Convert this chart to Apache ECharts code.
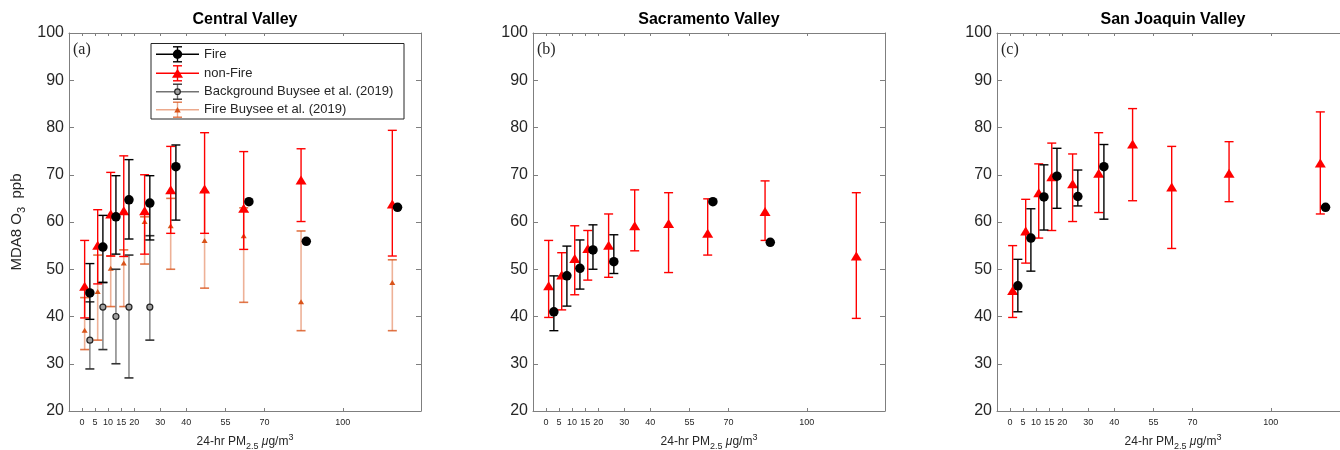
<!DOCTYPE html>
<html>
<head>
<meta charset="utf-8">
<script src="https://cdn.jsdelivr.net/npm/echarts@6/dist/echarts.min.js"></script>
<style>
html, body { margin: 0; padding: 0; background: #fff; }
#chart { width: 1340px; height: 450px; }
</style>
</head>
<body>
<div id="chart"></div>
<script>
// tick labels on the PM2.5 axis
var xTicks = [0, 5, 10, 15, 20, 30, 40, 55, 70, 100];
// bin positions
var nonFireX = [1, 6, 11, 16, 24, 34, 47, 62, 84, 119];
var fireX = [3, 8, 13, 18, 26, 36, 64, 86, 121];

// (a) Central Valley
var cvFire   = [45.0, 54.7, 61.1, 64.7, 64.0, 71.7, 64.3, 55.9, 63.1];
var cvFireLo = [39.4, 47.2, 53.2, 56.4, 56.2, 60.4, null, null, null];
var cvFireHi = [51.2, 61.4, 69.8, 73.2, 69.8, 76.3, null, null, null];
var cvNon    = [46.4, 55.1, 61.7, 62.4, 62.4, 66.8, 67.0, 62.9, 68.9, 63.8];
var cvNonLo  = [39.7, 46.9, 52.8, 52.7, 53.2, 57.6, 57.6, 54.2, 60.1, 52.8];
var cvNonHi  = [56.1, 62.6, 70.5, 74.0, 70.0, 76.0, 78.9, 74.9, 75.5, 79.4];
var bgBuysee   = [35.0, 42.0, 40.0, 42.0, 42.0];
var bgBuyseeLo = [28.9, 33.0, 30.0, 27.0, 35.0];
var bgBuyseeHi = [43.1, 47.2, 50.0, 53.0, 57.1];
var fireBuysee   = [37.1, 45.3, 50.2, 51.3, 60.1, 59.2, 56.1, 57.1, 43.1, 47.2];
var fireBuyseeLo = [33.0, 35.0, 42.1, 42.1, 51.1, 50.0, 46.0, 43.0, 37.0, 37.0];
var fireBuyseeHi = [44.0, 53.0, 52.8, 54.1, 61.1, 65.0, 66.4, 63.0, 58.1, 52.0];

// (b) Sacramento Valley
var svFire   = [41.0, 48.6, 50.2, 54.1, 51.6, null, 64.3, 55.7, null];
var svFireLo = [37.0, 42.2, 45.8, 50.0, 49.1, null, null, null, null];
var svFireHi = [48.6, 54.9, 56.2, 59.4, 57.3, null, null, null, null];
var svNon    = [46.5, 48.8, 52.3, 54.4, 55.1, 59.2, 59.7, 57.6, 62.2, 52.8];
var svNonLo  = [39.8, 41.4, 44.6, 47.7, 48.3, 53.9, 49.3, 53.0, 56.1, 39.6];
var svNonHi  = [56.1, 53.5, 59.2, 58.2, 61.7, 66.8, 66.2, 64.9, 68.7, 66.2];

// (c) San Joaquin Valley
var sjFire   = [46.5, 56.6, 65.3, 69.7, 65.4, 71.7, null, null, 63.1];
var sjFireLo = [41.0, 49.6, 58.3, 62.9, 63.4, 60.6, null, null, null];
var sjFireHi = [52.1, 62.8, 72.1, 75.6, 71.0, 76.4, null, null, null];
var sjNon    = [45.5, 58.1, 66.2, 69.6, 68.1, 70.3, 76.5, 67.4, 70.3, 72.5];
var sjNonLo  = [39.8, 51.3, 56.6, 58.2, 60.1, 62.0, 64.5, 54.4, 64.3, 61.7];
var sjNonHi  = [55.0, 64.8, 72.3, 76.7, 74.4, 78.9, 84.0, 76.0, 77.0, 83.3];

var FONT = '"Liberation Sans", Arial, sans-serif';
var AX = '#7f7f7f';
var TXT = '#262626';
var gridLeft = [69, 533, 997];
var gridW = 352;

var C_FIRE = '#000', C_NON = '#ff0000';
var C_BG_BAR = 'rgba(0,0,0,0.45)', C_BG_CAP = '#333';
var C_FB = '#d95319', C_FB_BAR = 'rgba(217,83,25,0.45)', C_FB_CAP = 'rgba(217,83,25,0.8)';

function pts(xs, ys) {
    var out = [];
    xs.forEach(function (x, i) { if (ys[i] != null) out.push([x, ys[i]]); });
    return out;
}
function bars(xs, lo, hi) {
    var out = [];
    xs.forEach(function (x, i) { if (lo[i] != null) out.push([x, lo[i], hi[i]]); });
    return out;
}

function errSeries(name, g, data, barColor, capColor, lw, z) {
    return {
        name: name, type: 'custom', xAxisIndex: g * 2, yAxisIndex: g * 2,
        data: data, z: z, silent: true,
        encode: { x: 0, y: [1, 2] },
        renderItem: function (params, api) {
            var x = api.value(0);
            var lo = api.coord([x, api.value(1)]);
            var hi = api.coord([x, api.value(2)]);
            var w = 4.5;
            return {
                type: 'group',
                children: [
                    { type: 'line', shape: { x1: lo[0], y1: lo[1], x2: hi[0], y2: hi[1] }, style: { stroke: barColor, lineWidth: lw } },
                    { type: 'line', shape: { x1: lo[0] - w, y1: lo[1], x2: lo[0] + w, y2: lo[1] }, style: { stroke: capColor, lineWidth: lw } },
                    { type: 'line', shape: { x1: hi[0] - w, y1: hi[1], x2: hi[0] + w, y2: hi[1] }, style: { stroke: capColor, lineWidth: lw } }
                ]
            };
        }
    };
}
function dotSeries(name, g, data, symbol, size, style, z) {
    return {
        name: name, type: 'scatter', xAxisIndex: g * 2, yAxisIndex: g * 2,
        data: data, symbol: symbol, symbolSize: size, itemStyle: style, z: z, silent: true
    };
}

var xName = '{a|24-hr PM}{s|2.5}{a| }{i|\u03bc}{a|g/m}{p|3}';
var xRich = {
    a: { fontSize: 12, lineHeight: 18, color: TXT, fontFamily: FONT },
    i: { fontSize: 12, lineHeight: 18, color: TXT, fontFamily: FONT, fontStyle: 'italic' },
    s: { fontSize: 9, lineHeight: 10, color: TXT, fontFamily: FONT, verticalAlign: 'bottom' },
    p: { fontSize: 9, lineHeight: 10, color: TXT, fontFamily: FONT, verticalAlign: 'top' }
};

var grids = [], xAxes = [], yAxes = [];
for (var g = 0; g < 3; g++) {
    grids.push({ left: gridLeft[g], top: 33, width: gridW, height: 378, outerBoundsMode: 'none', containLabel: false });
    xAxes.push({
        gridIndex: g, type: 'value', min: -5, max: 130, position: 'bottom',
        axisLine: { onZero: false, lineStyle: { color: AX, width: 1 } },
        axisTick: { inside: true, length: 3, customValues: xTicks, lineStyle: { color: AX } },
        axisLabel: { customValues: xTicks, fontSize: 9, color: TXT, margin: 7, fontFamily: FONT },
        splitLine: { show: false },
        name: xName, nameLocation: 'middle', nameGap: 22,
        nameTextStyle: { rich: xRich }
    });
    xAxes.push({
        gridIndex: g, type: 'value', min: -5, max: 130, position: 'top',
        axisLine: { onZero: false, lineStyle: { color: AX, width: 1 } },
        axisTick: { inside: true, length: 3, customValues: xTicks, lineStyle: { color: AX } },
        axisLabel: { show: false }, splitLine: { show: false }
    });
    var yl = {
        gridIndex: g, type: 'value', min: 20, max: 100, interval: 10, position: 'left',
        axisLine: { show: true, onZero: false, lineStyle: { color: AX, width: 1 } },
        axisTick: { show: true, inside: true, length: 5, lineStyle: { color: AX } },
        axisLabel: { fontSize: 16, color: TXT, margin: 5, fontFamily: FONT },
        splitLine: { show: false }
    };
    if (g === 0) {
        yl.name = '{a|MDA8 O}{s|3}{a|  ppb}';
        yl.nameLocation = 'middle';
        yl.nameGap = 42;
        yl.nameTextStyle = { rich: {
            a: { fontSize: 15, lineHeight: 20, color: TXT, fontFamily: FONT },
            s: { fontSize: 11, lineHeight: 11, color: TXT, fontFamily: FONT, verticalAlign: 'bottom' }
        } };
    }
    yAxes.push(yl);
    yAxes.push({
        gridIndex: g, type: 'value', min: 20, max: 100, interval: 10, position: 'right',
        axisLine: { show: true, onZero: false, lineStyle: { color: AX, width: 1 } },
        axisTick: { show: true, inside: true, length: 5, lineStyle: { color: AX } },
        axisLabel: { show: false }, splitLine: { show: false }
    });
}

var N_FIRE = 'Fire', N_NON = 'non-Fire', N_BG = 'Background Buysee et al. (2019)', N_FB = 'Fire Buysee et al. (2019)';
var fireStyle = { color: C_FIRE, opacity: 1 };
var nonStyle = { color: C_NON, opacity: 1 };
var bgStyle = { color: '#a0a0a0', borderColor: '#222', borderWidth: 1.2, opacity: 1 };
var fbStyle = { color: C_FB, opacity: 1 };

var series = [
    // (a)
    errSeries(N_FB, 0, bars(nonFireX, fireBuyseeLo, fireBuyseeHi), C_FB_BAR, C_FB_CAP, 1.6, 1),
    dotSeries(N_FB, 0, pts(nonFireX, fireBuysee), 'triangle', [6, 5], fbStyle, 2),
    errSeries(N_BG, 0, bars(fireX, bgBuyseeLo, bgBuyseeHi), C_BG_BAR, C_BG_CAP, 1.6, 3),
    dotSeries(N_BG, 0, pts(fireX, bgBuysee), 'circle', 6, bgStyle, 4),
    errSeries(N_NON, 0, bars(nonFireX, cvNonLo, cvNonHi), C_NON, C_NON, 1.4, 5),
    dotSeries(N_NON, 0, pts(nonFireX, cvNon), 'triangle', [11, 9], nonStyle, 6),
    errSeries(N_FIRE, 0, bars(fireX, cvFireLo, cvFireHi), C_FIRE, C_FIRE, 1.4, 7),
    dotSeries(N_FIRE, 0, pts(fireX, cvFire), 'circle', 9.5, fireStyle, 8),
    // (b)
    errSeries(N_NON, 1, bars(nonFireX, svNonLo, svNonHi), C_NON, C_NON, 1.4, 5),
    dotSeries(N_NON, 1, pts(nonFireX, svNon), 'triangle', [11, 9], nonStyle, 6),
    errSeries(N_FIRE, 1, bars(fireX, svFireLo, svFireHi), C_FIRE, C_FIRE, 1.4, 7),
    dotSeries(N_FIRE, 1, pts(fireX, svFire), 'circle', 9.5, fireStyle, 8),
    // (c)
    errSeries(N_NON, 2, bars(nonFireX, sjNonLo, sjNonHi), C_NON, C_NON, 1.4, 5),
    dotSeries(N_NON, 2, pts(nonFireX, sjNon), 'triangle', [11, 9], nonStyle, 6),
    errSeries(N_FIRE, 2, bars(fireX, sjFireLo, sjFireHi), C_FIRE, C_FIRE, 1.4, 7),
    dotSeries(N_FIRE, 2, pts(fireX, sjFire), 'circle', 9.5, fireStyle, 8)
];

// legend of panel (a), drawn as a boxed key
var legendItems = [
    { name: N_FIRE, bar: C_FIRE, cap: C_FIRE, marker: 'circle', r: 4.7, fill: C_FIRE, stroke: null },
    { name: N_NON, bar: C_NON, cap: C_NON, marker: 'tri', w: 11, h: 9, fill: C_NON },
    { name: N_BG, bar: 'rgba(0,0,0,0.55)', cap: C_BG_CAP, marker: 'circle', r: 2.8, fill: '#a0a0a0', stroke: '#222' },
    { name: N_FB, bar: 'rgba(217,83,25,0.5)', cap: C_FB_CAP, marker: 'tri', w: 6.5, h: 5.5, fill: C_FB }
];
var legendRows = [54.3, 73.3, 91.7, 109.7];
var graphic = [{
    type: 'rect', z: 100, shape: { x: 151, y: 43.5, width: 253, height: 75.5 },
    style: { fill: '#fff', stroke: TXT, lineWidth: 1 }
}];
legendItems.forEach(function (it, i) {
    var y = legendRows[i], cx = 177.5;
    graphic.push({ type: 'line', z: 101, shape: { x1: 156, y1: y, x2: 199, y2: y }, style: { stroke: it.bar, lineWidth: 1.4 } });
    graphic.push({ type: 'line', z: 101, shape: { x1: cx, y1: y - 7.5, x2: cx, y2: y + 7.5 }, style: { stroke: it.bar, lineWidth: 1.4 } });
    graphic.push({ type: 'line', z: 101, shape: { x1: cx - 4.5, y1: y - 7.5, x2: cx + 4.5, y2: y - 7.5 }, style: { stroke: it.cap, lineWidth: 1.4 } });
    graphic.push({ type: 'line', z: 101, shape: { x1: cx - 4.5, y1: y + 7.5, x2: cx + 4.5, y2: y + 7.5 }, style: { stroke: it.cap, lineWidth: 1.4 } });
    if (it.marker === 'circle') {
        graphic.push({ type: 'circle', z: 102, shape: { cx: cx, cy: y, r: it.r },
            style: { fill: it.fill, stroke: it.stroke, lineWidth: it.stroke ? 1.2 : 0 } });
    } else {
        graphic.push({ type: 'polygon', z: 102,
            shape: { points: [[cx, y - it.h / 2], [cx + it.w / 2, y + it.h / 2], [cx - it.w / 2, y + it.h / 2]] },
            style: { fill: it.fill } });
    }
    graphic.push({ type: 'text', z: 102, x: 204, y: y,
        style: { text: it.name, fill: TXT, font: '13px ' + FONT, textVerticalAlign: 'middle', verticalAlign: 'middle' } });
});

var titles = [
    { text: 'Central Valley', left: 245, top: 12, textAlign: 'center', padding: 0,
      textStyle: { fontSize: 16, fontWeight: 'bold', color: '#000', fontFamily: FONT } },
    { text: 'Sacramento Valley', left: 709, top: 12, textAlign: 'center', padding: 0,
      textStyle: { fontSize: 16, fontWeight: 'bold', color: '#000', fontFamily: FONT } },
    { text: 'San Joaquin Valley', left: 1173, top: 12, textAlign: 'center', padding: 0,
      textStyle: { fontSize: 16, fontWeight: 'bold', color: '#000', fontFamily: FONT } }
];
['(a)', '(b)', '(c)'].forEach(function (t, i) {
    titles.push({ text: t, left: gridLeft[i] + 4, top: 42, padding: 0,
        textStyle: { fontSize: 16, fontWeight: 'normal', color: TXT, fontFamily: '"Liberation Serif", "Times New Roman", serif' } });
});

var chart = echarts.init(document.getElementById('chart'));
chart.setOption({
    animation: false,
    backgroundColor: '#fff',
    title: titles,
    grid: grids,
    xAxis: xAxes,
    yAxis: yAxes,
    series: series,
    graphic: graphic
});
</script>
</body>
</html>
